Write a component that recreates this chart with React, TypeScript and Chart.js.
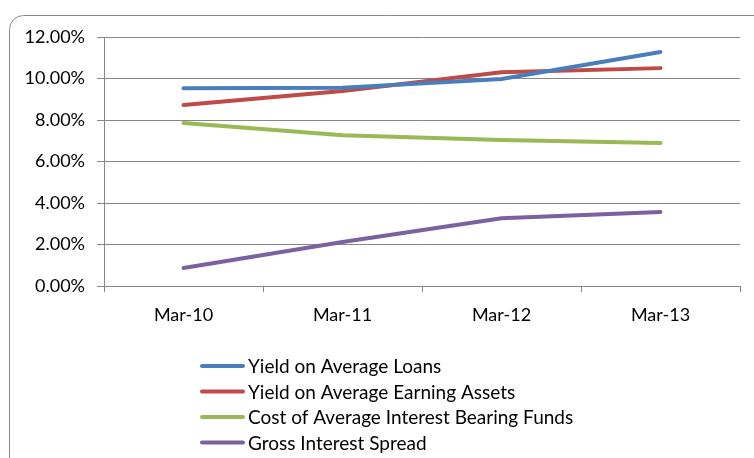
import React, { useEffect, useRef } from "react";
import { Chart, registerables } from "chart.js";

Chart.register(...registerables);

const categories = ["Mar-10", "Mar-11", "Mar-12", "Mar-13"];
const yieldLoans = [9.53, 9.55, 9.98, 11.28];
const yieldAssets = [8.72, 9.4, 10.3, 10.5];
const costFunds = [7.86, 7.27, 7.04, 6.89];
const grossSpread = [0.87, 2.12, 3.27, 3.57];
const seriesNames = [
  "Yield on Average Loans",
  "Yield on Average Earning Assets",
  "Cost of Average Interest Bearing Funds",
  "Gross Interest Spread",
];
const seriesColors = ["#4A7EBB", "#BE4B48", "#98B954", "#7D60A0"];

const FONT = "Lato, 'DejaVu Sans', sans-serif";

const framePlugin = {
  id: "frame",
  beforeDraw(chart: any) {
    const ctx = chart.ctx;
    ctx.save();
    ctx.fillStyle = "#ffffff";
    ctx.fillRect(0, 0, chart.width, chart.height);
    ctx.strokeStyle = "#8a8a8a";
    ctx.lineWidth = 1;
    ctx.beginPath();
    (ctx as any).roundRect(9.5, 15.5, 800, 500, 14);
    ctx.stroke();
    ctx.restore();
  },
  afterDraw(chart: any) {
    const ctx = chart.ctx;
    ctx.save();
    chart.data.datasets.forEach((ds: any, i: number) => {
      const y = 366 + i * 25.5;
      ctx.strokeStyle = ds.borderColor;
      ctx.lineWidth = 4;
      ctx.lineCap = "round";
      ctx.beginPath();
      ctx.moveTo(202, y);
      ctx.lineTo(243, y);
      ctx.stroke();
      ctx.fillStyle = "#000";
      ctx.font = `19px ${FONT}`;
      ctx.textBaseline = "middle";
      ctx.textAlign = "left";
      ctx.fillText(ds.label, 248, y + 1);
    });
    ctx.restore();
  },
};

export default function App() {
  const ref = useRef<HTMLCanvasElement>(null);
  useEffect(() => {
    if (!ref.current) return;
    const data = [yieldLoans, yieldAssets, costFunds, grossSpread];
    const chart = new Chart(ref.current, {
      type: "line",
      data: {
        labels: categories,
        datasets: data.map((d, i) => ({
          label: seriesNames[i],
          data: d,
          borderColor: seriesColors[i],
          backgroundColor: seriesColors[i],
          borderWidth: 4,
          borderCapStyle: "round" as const,
          pointRadius: 0,
          tension: 0,
        })),
      },
      options: {
        animation: false,
        responsive: false,
        layout: { padding: { left: 10, right: 14, top: 37, bottom: 130 } },
        plugins: {
          legend: { display: false },
          tooltip: { enabled: false },
        },
        scales: {
          x: {
            offset: true,
            afterFit: (s: any) => {
              s.height = 42;
            },
            grid: {
              offset: true,
              drawOnChartArea: false,
              color: "#868686",
              tickLength: 6,
            },
            border: { color: "#868686" },
            ticks: {
              color: "#000",
              font: { family: FONT, size: 18 },
              padding: 12,
              maxRotation: 0,
            },
          },
          y: {
            min: 0,
            max: 12,
            afterFit: (s: any) => {
              s.width = 94;
            },
            grid: { color: "#868686", tickLength: 7 },
            border: { color: "#868686" },
            ticks: {
              stepSize: 2,
              color: "#000",
              font: { family: FONT, size: 18 },
              padding: 12,
              callback: (v: any) => Number(v).toFixed(2) + "%",
            },
          },
        },
      },
      plugins: [framePlugin],
    });
    return () => chart.destroy();
  }, []);
  return (
    <div style={{ position: "fixed", left: 0, top: 0, width: 754, height: 458, overflow: "hidden", background: "#fff" }}>
      <canvas ref={ref} width={754} height={458} style={{ width: 754, height: 458, display: "block" }} />
    </div>
  );
}
